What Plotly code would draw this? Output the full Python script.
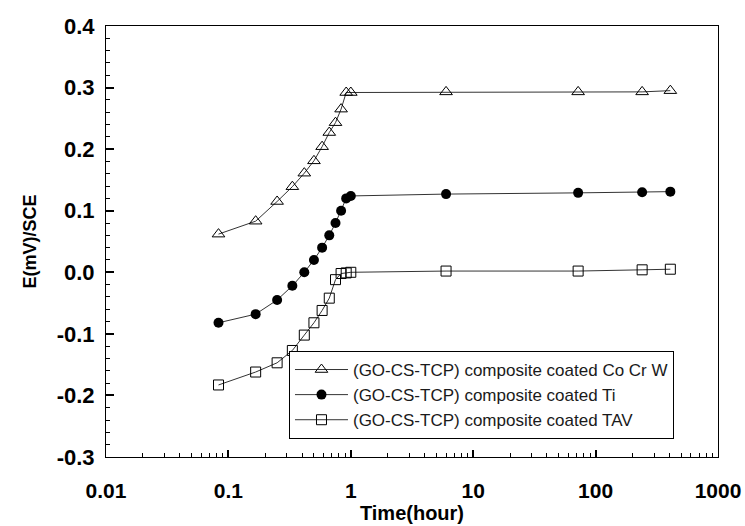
import plotly.graph_objects as go

# Time in hours
time_h = [0.083, 0.167, 0.25, 0.333, 0.417, 0.5, 0.583, 0.667, 0.75, 0.833, 0.917, 1.0, 6, 72, 240, 408]

cocrw = [0.062, 0.083, 0.115, 0.139, 0.161, 0.181, 0.204, 0.227, 0.243, 0.265, 0.292, 0.292, 0.293, 0.293, 0.293, 0.295]
ti = [-0.082, -0.068, -0.045, -0.022, 0.000, 0.020, 0.040, 0.060, 0.080, 0.100, 0.120, 0.124, 0.127, 0.129, 0.130, 0.131]
tav = [-0.183, -0.162, -0.147, -0.127, -0.102, -0.082, -0.062, -0.042, -0.012, -0.002, -0.001, 0.000, 0.002, 0.002, 0.004, 0.005]

series_names = [
    "(GO-CS-TCP) composite coated Co Cr W",
    "(GO-CS-TCP) composite coated Ti",
    "(GO-CS-TCP) composite coated TAV",
]

x_tickvals = [0.01, 0.1, 1, 10, 100, 1000]
x_ticktext = ["0.01", "0.1", "1", "10", "100", "1000"]
y_tickvals = [-0.3, -0.2, -0.1, 0.0, 0.1, 0.2, 0.3, 0.4]
y_ticktext = ["-0.3", "-0.2", "-0.1", "0.0", "0.1", "0.2", "0.3", "0.4"]

line_color = "#333333"
font_family = "Liberation Sans, Arial, sans-serif"

fig = go.Figure()
fig.add_trace(go.Scatter(
    x=time_h, y=cocrw, name=series_names[0], mode="lines+markers",
    line=dict(color=line_color, width=1),
    marker=dict(symbol="triangle-up-open", size=11, color="black", line=dict(width=1, color="black")),
))
fig.add_trace(go.Scatter(
    x=time_h, y=ti, name=series_names[1], mode="lines+markers",
    line=dict(color=line_color, width=1),
    marker=dict(symbol="circle", size=10, color="black"),
))
fig.add_trace(go.Scatter(
    x=time_h, y=tav, name=series_names[2], mode="lines+markers",
    line=dict(color=line_color, width=1),
    marker=dict(symbol="square-open", size=10, color="black", line=dict(width=1, color="black")),
))

fig.update_layout(
    width=745, height=526,
    margin=dict(l=106, r=27, t=26, b=69),
    paper_bgcolor="white", plot_bgcolor="white",
    font=dict(family=font_family, color="black"),
    showlegend=True,
    legend=dict(
        x=0.299, y=0.246, xanchor="left", yanchor="top",
        bordercolor="black", borderwidth=1, bgcolor="white",
        font=dict(size=17, color="#1a1a1a", family=font_family),
        itemwidth=53, tracegroupgap=0,
    ),
    xaxis=dict(
        type="log", range=[-2, 3.0], automargin=False,
        tickvals=x_tickvals, ticktext=x_ticktext,
        ticks="inside", ticklen=7, tickwidth=2, tickcolor="black",
        showline=True, linecolor="black", linewidth=1, mirror=True,
        showgrid=False, zeroline=False,
        tickfont=dict(size=21, family=font_family, weight="bold"),
        ticklabelstandoff=15,
        minor=dict(ticks="inside", ticklen=4, tickwidth=1, tickcolor="black", dtick="D1", showgrid=False),
        title=dict(text="Time(hour)", font=dict(size=20, family=font_family, weight="bold"), standoff=4),
    ),
    yaxis=dict(
        range=[-0.3, 0.4], automargin=False,
        tickvals=y_tickvals, ticktext=y_ticktext,
        ticks="inside", ticklen=8, tickwidth=2, tickcolor="black",
        showline=True, linecolor="black", linewidth=1, mirror=True,
        showgrid=False, zeroline=False,
        tickfont=dict(size=22, family=font_family, weight="bold"),
        ticklabelstandoff=6,
        minor=dict(ticks="inside", ticklen=4, tickwidth=1, tickcolor="black", dtick=0.02, showgrid=False),
        title=dict(text="E(mV)/SCE", font=dict(size=18, family=font_family, weight="bold"), standoff=15),
    ),
)

fig.write_html("out.html")
